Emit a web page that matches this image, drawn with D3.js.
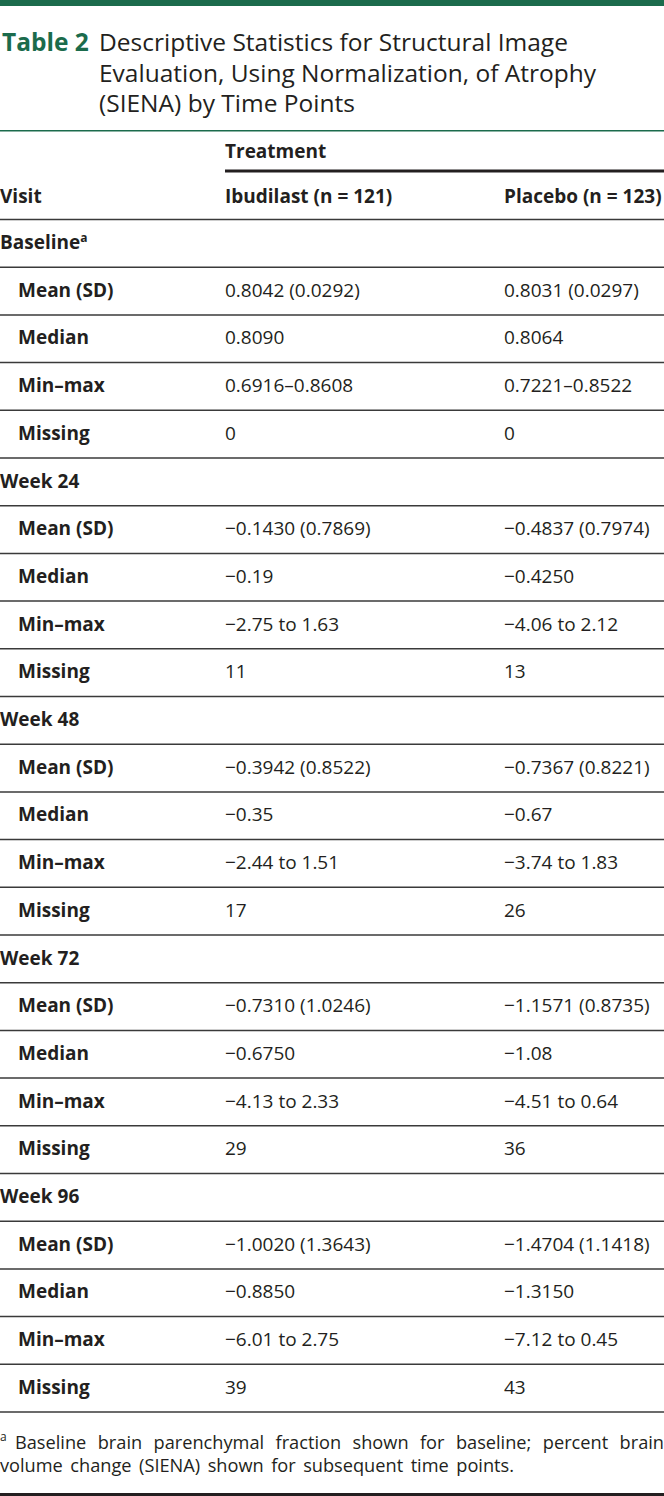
<!DOCTYPE html>
<html>
<head>
<meta charset="utf-8">
<script src="https://cdn.jsdelivr.net/npm/d3@7"></script>
<style>
  body { margin: 0; background: #fff; }
  svg { display: block; }
  text { font-family: "Open Sans", "Noto Sans", sans-serif; fill: #231f20; }
</style>
</head>
<body>
<div id="chart"></div>
<script>
var WIDTH = 664, HEIGHT = 1496;
var GREEN = "#1b6b4c";
var BODY_FONT = "19px";
var NOTE_FONT = "18.2px";

// table content
var titleLabel = "Table 2";
var titleLines = [
  "Descriptive Statistics for Structural Image",
  "Evaluation, Using Normalization, of Atrophy",
  "(SIENA) by Time Points"
];
var spanHeader = "Treatment";
var columnHeaders = ["Visit", "Ibudilast (n = 121)", "Placebo (n = 123)"];
var visits = ["Baseline", "Week 24", "Week 48", "Week 72", "Week 96"];
var visitNotes = ["a", "", "", "", ""];
var statLabels = ["Mean (SD)", "Median", "Min–max", "Missing"];
var ibudilastValues = [
  ["0.8042 (0.0292)", "0.8090", "0.6916–0.8608", "0"],
  ["−0.1430 (0.7869)", "−0.19", "−2.75 to 1.63", "11"],
  ["−0.3942 (0.8522)", "−0.35", "−2.44 to 1.51", "17"],
  ["−0.7310 (1.0246)", "−0.6750", "−4.13 to 2.33", "29"],
  ["−1.0020 (1.3643)", "−0.8850", "−6.01 to 2.75", "39"]
];
var placeboValues = [
  ["0.8031 (0.0297)", "0.8064", "0.7221–0.8522", "0"],
  ["−0.4837 (0.7974)", "−0.4250", "−4.06 to 2.12", "13"],
  ["−0.7367 (0.8221)", "−0.67", "−3.74 to 1.83", "26"],
  ["−1.1571 (0.8735)", "−1.08", "−4.51 to 0.64", "36"],
  ["−1.4704 (1.1418)", "−1.3150", "−7.12 to 0.45", "43"]
];
var footnoteLines = [
  "Baseline brain parenchymal fraction shown for baseline; percent brain",
  "volume change (SIENA) shown for subsequent time points."
];

// flatten into table rows
var rows = [];
visits.forEach(function(v, i) {
  rows.push({ type: "visit", label: v, note: visitNotes[i] });
  statLabels.forEach(function(s, j) {
    rows.push({ type: "stat", label: s, ibu: ibudilastValues[i][j], pla: placeboValues[i][j] });
  });
});

var svg = d3.select("#chart").append("svg")
  .attr("width", WIDTH)
  .attr("height", HEIGHT);

// top green bar
svg.append("rect").attr("x", 0).attr("y", 0).attr("width", WIDTH).attr("height", 6).attr("fill", GREEN);

// title
svg.append("text")
  .attr("x", 2).attr("y", 51)
  .style("font-size", "24.5px").style("font-weight", "700").style("fill", GREEN)
  .text(titleLabel);

svg.selectAll(".title-line")
  .data(titleLines)
  .enter().append("text")
  .attr("class", "title-line")
  .attr("x", 99)
  .attr("y", function(d, i) { return 51 + i * 30.5; })
  .style("font-size", "24.5px")
  .text(function(d) { return d; });

// green rule under title
svg.append("rect").attr("x", 0).attr("y", 130).attr("width", WIDTH).attr("height", 1.5).attr("fill", GREEN);

// column positions
var x = d3.scaleOrdinal().domain(["label", "ibu", "pla"]).range([0, 225, 504]);

// header
svg.append("text").attr("x", x("ibu")).attr("y", 158)
  .style("font-size", BODY_FONT).style("font-weight", "700").text(spanHeader);
svg.append("rect").attr("x", x("ibu")).attr("y", 169.5).attr("width", WIDTH - x("ibu")).attr("height", 3).attr("fill", "#231f20");

svg.selectAll(".col-head")
  .data(columnHeaders)
  .enter().append("text")
  .attr("class", "col-head")
  .attr("x", function(d, i) { return x(x.domain()[i]); })
  .attr("y", 202.5)
  .style("font-size", BODY_FONT).style("font-weight", "700")
  .text(function(d) { return d; });

// body rows
var y = d3.scaleBand()
  .domain(d3.range(rows.length))
  .range([219.5, 1412]);

svg.selectAll(".row-line")
  .data(d3.range(rows.length + 1))
  .enter().append("line")
  .attr("class", "row-line")
  .attr("x1", 0).attr("x2", WIDTH)
  .attr("y1", function(d) { return d < rows.length ? y(d) : y(rows.length - 1) + y.bandwidth(); })
  .attr("y2", function(d) { return d < rows.length ? y(d) : y(rows.length - 1) + y.bandwidth(); })
  .attr("stroke", "#3a3a3a")
  .attr("stroke-width", 1.5);

var row = svg.selectAll(".row")
  .data(rows)
  .enter().append("g")
  .attr("class", "row")
  .attr("transform", function(d, i) { return "translate(0," + (y(i) + 29.5) + ")"; });

var lbl = row.append("text")
  .attr("x", function(d) { return d.type === "visit" ? 0 : 18; })
  .style("font-size", BODY_FONT)
  .style("font-weight", "700")
  .text(function(d) { return d.label; });

lbl.filter(function(d) { return d.note; })
  .append("tspan")
  .attr("dy", -7)
  .style("font-size", "12px")
  .text(function(d) { return d.note; });

row.filter(function(d) { return d.type === "stat"; })
  .append("text")
  .attr("x", x("ibu"))
  .style("font-size", BODY_FONT)
  .text(function(d) { return d.ibu; });

row.filter(function(d) { return d.type === "stat"; })
  .append("text")
  .attr("x", x("pla"))
  .style("font-size", BODY_FONT)
  .text(function(d) { return d.pla; });

// footnote, first line justified by spreading the words
svg.append("text").attr("x", 0).attr("y", 1441)
  .style("font-size", "12px").text("a");

footnoteLines.forEach(function(line, li) {
  var words = line.split(" ");
  var baseY = 1449 + li * 22.5;
  var startX = li === 0 ? 15 : 0;
  var g = svg.append("g");
  var nodes = words.map(function(w) {
    return g.append("text").attr("y", baseY).style("font-size", NOTE_FONT).text(w);
  });
  var widths = nodes.map(function(n) { return n.node().getComputedTextLength(); });
  var gap;
  if (li === 0) {
    gap = (WIDTH - startX - d3.sum(widths)) / (words.length - 1);
  } else {
    gap = 7.5;
  }
  var cx = startX;
  nodes.forEach(function(n, i) {
    n.attr("x", cx);
    cx += widths[i] + gap;
  });
});

// bottom rule
svg.append("rect").attr("x", 0).attr("y", 1493).attr("width", WIDTH).attr("height", 3).attr("fill", "#231f20");
</script>
</body>
</html>
